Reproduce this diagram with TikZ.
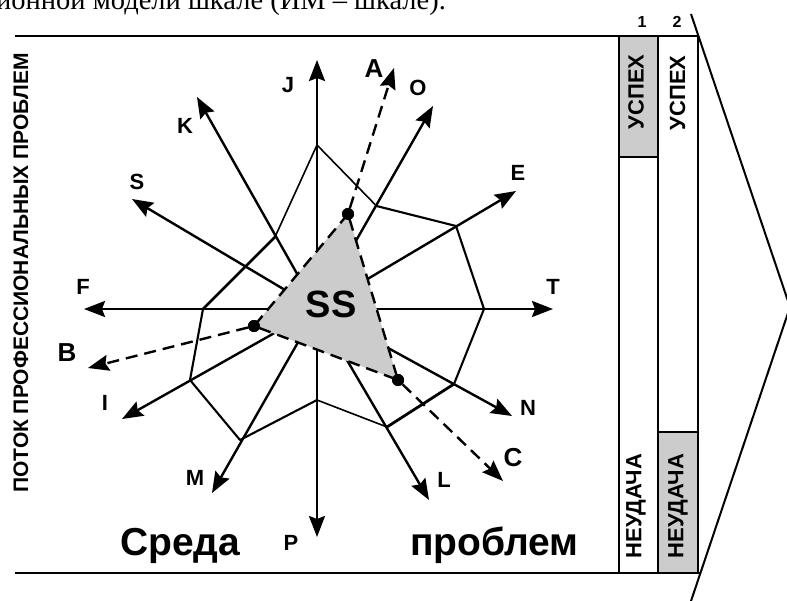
\documentclass[tikz,border=0pt]{standalone}
\usepackage{fontspec}
\setmainfont{Liberation Sans}
\newfontfamily\capfont{Liberation Serif}
\usetikzlibrary{arrows.meta}
\begin{document}
\begin{tikzpicture}[x=1pt,y=-1pt,
  axis/.style={line width=2.4pt,-{Stealth[length=21pt,width=16pt,inset=3pt]}},
  mainaxis/.style={axis,line width=2.8pt},
  dashaxis/.style={axis,dash pattern=on 12pt off 7pt},
  rim/.style={line width=1.6pt,line join=round},
  rimmid/.style={line width=2.1pt,line join=round},
  rimthick/.style={line width=2.8pt,line join=round},
  frameline/.style={line width=2.4pt},
  colbox/.style={line width=2.4pt},
  dot/.style={circle,fill=black,inner sep=0pt,minimum size=12pt},
  lbl/.style={font=\bfseries\fontsize{22}{22}\selectfont,inner sep=0pt},
  biglbl/.style={font=\bfseries\fontsize{26}{26}\selectfont,inner sep=0pt},
  coltext/.style={font=\bfseries\fontsize{22}{22}\selectfont,rotate=90,inner sep=0pt},
  wordtext/.style={font=\bfseries\fontsize{39}{39}\selectfont,inner sep=0pt,anchor=base west},
]
\useasboundingbox (0,0) rectangle (787,601);
\clip (0,0) rectangle (787,601);

% caption line running off the top edge
\node[font=\capfont\fontsize{28.5}{28.5}\selectfont,anchor=base west,inner sep=0pt]
  (caption) at (-4,10) {ионной модели шкале (ИМ – шкале).};

% frame
\draw[frameline] (15,36) -- (698,36);
\draw[frameline] (15,573) -- (700,573);

% outcome columns
\filldraw[colbox,fill=gray!40] (619,36) rectangle (658,157);
\draw[colbox] (619,157) rectangle (658,573);
\draw[colbox] (658,36) rectangle (698,432);
\filldraw[colbox,fill=gray!40] (658,432) rectangle (698,573);
\node[font=\bfseries\fontsize{16}{16}\selectfont,inner sep=0pt] (n1) at (642,22) {1};
\node[font=\bfseries\fontsize{16}{16}\selectfont,inner sep=0pt] (n2) at (677,22) {2};
\node[coltext] (s1) at (636,92) {УСПЕХ};
\node[coltext] (s2) at (677.5,93) {УСПЕХ};
\node[coltext] (f1) at (636,506) {НЕУДАЧА};
\node[coltext] (f2) at (678,506) {НЕУДАЧА};

% big chevron
\coordinate (chTop) at (691,14);
\coordinate (chApex) at (790,307);
\coordinate (chBot) at (690,604);
\draw[line width=2pt] (chTop) -- (chApex) -- (chBot);

% side caption
\node[font=\bfseries\fontsize{21}{21}\selectfont,rotate=90,inner sep=0pt] (side) at (21,273)
  {ПОТОК ПРОФЕССИОНАЛЬНЫХ ПРОБЛЕМ};

% centre and axis tips
\coordinate (ctr) at (317,309);
\coordinate (tJ) at (317,60);
\coordinate (tK) at (197,97);
\coordinate (tS) at (132,199);
\coordinate (tF) at (84,309);
\coordinate (tI) at (122,419);
\coordinate (tM) at (212,493);
\coordinate (tP) at (317,537);
\coordinate (tL) at (429,500);
\coordinate (tN) at (512,416);
\coordinate (tT) at (553,309);
\coordinate (tE) at (516,191);
\coordinate (tO) at (433,106);
\coordinate (tA) at (394,68);
\coordinate (tB) at (88,368);
\coordinate (tC) at (503,481);

% profile vertices
\coordinate (vJ) at (317,145);
\coordinate (vK) at (275,237);
\coordinate (vF) at (203,309);
\coordinate (vI) at (190,380);
\coordinate (vM) at (240,440);
\coordinate (vP) at (317,400);
\coordinate (vL) at (387,427);
\coordinate (vN) at (454,384);
\coordinate (vT) at (484,309);
\coordinate (vE) at (456,226);
\coordinate (vO) at (376.5,206);

% axes
\draw[mainaxis] (ctr) -- (tJ);
\foreach \t in {tK,tS,tF,tI,tM,tP,tL,tN,tT,tE,tO}
  \draw[axis] (ctr) -- (\t);

% profile polygon
\draw[rim] (vJ) -- (vK);
\draw[rimthick] (vK) -- (vF);
\draw[rimmid] (vF) -- (vI) -- (vM) -- (vP);
\draw[rim] (vP) -- (vL);
\draw[rimthick] (vL) -- (vN);
\draw[rimmid] (vN) -- (vT) -- (vE) -- (vO);
\draw[rim] (vO) -- (vJ);

% shaded triangle SS
\node[dot] (dA) at (348,214) {};
\node[dot] (dB) at (254,326) {};
\node[dot] (dC) at (398,380) {};
\fill[gray!40] (dA.center) -- (dB.center) -- (dC.center) -- cycle;
\draw[line width=2.4pt,dash pattern=on 12pt off 7pt]
  (dA.center) -- (dB.center) -- (dC.center) -- cycle;
\draw[dashaxis] (dA) -- (tA);
\draw[dashaxis] (dB) -- (tB);
\draw[dashaxis] (dC) -- (tC);
\node[dot] at (dA) {};
\node[dot] at (dB) {};
\node[dot] at (dC) {};
\node[font=\bfseries\fontsize{38}{38}\selectfont,inner sep=0pt] (ss) at (331,304) {SS};

% axis labels
\node[lbl] (lJ) at (288,85) {J};
\node[lbl] (lK) at (185,126) {K};
\node[lbl] (lS) at (137,182) {S};
\node[lbl] (lF) at (83,287) {F};
\node[lbl] (lI) at (105,403) {I};
\node[lbl] (lM) at (195,478) {M};
\node[lbl] (lP) at (291,543) {P};
\node[lbl] (lL) at (444,480) {L};
\node[lbl] (lN) at (528,408) {N};
\node[lbl] (lT) at (553,287) {T};
\node[lbl] (lE) at (518,173) {E};
\node[lbl] (lO) at (418,88) {O};
\node[biglbl] (lA) at (374,69) {A};
\node[biglbl] (lB) at (67,353) {B};
\node[biglbl] (lC) at (513,458) {C};

% bottom words
\node[wordtext] (w1) at (120,555) {Среда};
\node[wordtext] (w2) at (410,555) {проблем};
\end{tikzpicture}
\end{document}
